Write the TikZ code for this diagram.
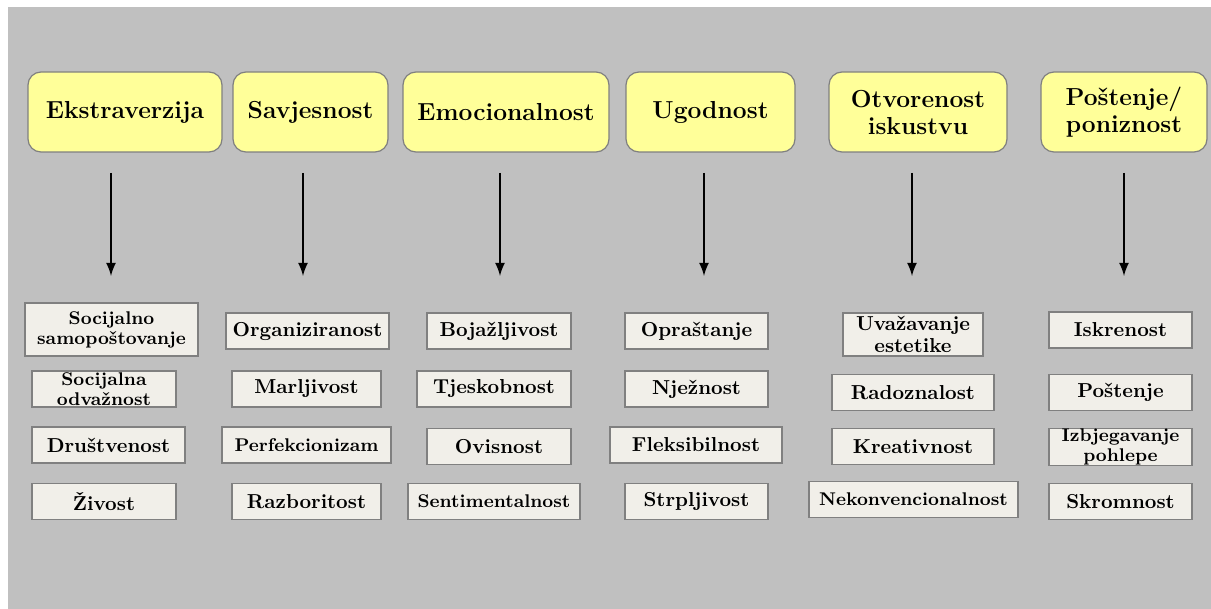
\documentclass[tikz,border=0pt]{standalone}
\usepackage{fontspec}
\definecolor{bggray}{RGB}{192,192,192}
\definecolor{traityellow}{RGB}{255,255,153}
\definecolor{facetgray}{RGB}{241,239,233}
\definecolor{edgegray}{RGB}{128,128,128}
\begin{document}
\begin{tikzpicture}[x=0.5pt, y=-0.5pt,
    trait/.style={draw=edgegray, line width=0.6pt, fill=traityellow, rounded corners=6.5pt, align=center, inner sep=0pt, minimum height=40pt, font=\fontsize{12.3}{13.5}\selectfont\bfseries},
    facet/.style={draw=edgegray, line width=0.6pt, fill=facetgray, align=center, inner sep=0pt, minimum height=18pt, font=\fontsize{10.1}{11}\selectfont\bfseries},
    smallfacet/.style={facet, font=\fontsize{9.2}{10}\selectfont\bfseries},
    facetarrow/.style={-latex, line width=1.25pt}]

    \fill[white] (0,0) rectangle (1211,609);
    \fill[bggray] (8,7) rectangle (1211,609);

    \node[trait, minimum width=97pt](E) at (125, 112) {Ekstraverzija};
    \node[trait, minimum width=77.5pt](S) at (310.5, 112) {Savjesnost};
    \node[trait, minimum width=103pt](EM) at (506, 112) {Emocionalnost};
    \node[trait, minimum width=84.5pt](U) at (710.5, 112) {Ugodnost};
    \node[trait, minimum width=89pt](O) at (918, 112) {Otvorenost\\iskustvu};
    \node[trait, minimum width=83pt](P) at (1124, 112) {Poštenje/\\poniznost};

    \foreach \x [count=\i] in {111, 303, 500, 704, 912, 1124} {
        \coordinate (A\i_top) at (\x, 173);
        \coordinate (A\i_bot) at (\x, 276);
        \draw[facetarrow] (A\i_top) -- (A\i_bot);
    }

    \node[smallfacet, minimum width=86.5pt, minimum height=26.5pt](E_f1) at (111.5, 329.5) {Socijalno\\samopoštovanje};
    \node[smallfacet, minimum width=72pt](E_f2) at (104, 389) {Socijalna\\odvažnost};
    \node[facet, minimum width=76.5pt](E_f3) at (108.5, 445) {Društvenost};
    \node[facet, minimum width=72pt](E_f4) at (104, 501.5) {Živost};

    \node[facet, minimum width=81.5pt](S_f1) at (307.5, 331) {Organiziranost};
    \node[facet, minimum width=74.5pt](S_f2) at (306.5, 389) {Marljivost};
    \node[smallfacet, minimum width=84.5pt](S_f3) at (306.5, 445) {Perfekcionizam};
    \node[facet, minimum width=74.5pt](S_f4) at (306.5, 501.5) {Razboritost};

    \node[facet, minimum width=72pt](EM_f1) at (499, 331) {Bojažljivost};
    \node[facet, minimum width=77pt](EM_f2) at (494, 389) {Tjeskobnost};
    \node[facet, minimum width=72pt](EM_f3) at (499, 446.5) {Ovisnost};
    \node[smallfacet, minimum width=86pt](EM_f4) at (494, 501.5) {Sentimentalnost};

    \node[facet, minimum width=71.5pt](U_f1) at (696.5, 331) {Opraštanje};
    \node[facet, minimum width=71.5pt](U_f2) at (696.5, 389) {Nježnost};
    \node[facet, minimum width=86pt](U_f3) at (696, 445) {Fleksibilnost};
    \node[facet, minimum width=71.5pt](U_f4) at (696.5, 501.5) {Strpljivost};

    \node[facet, minimum width=70pt, minimum height=21.5pt](O_f1) at (913, 334.5) {Uvažavanje\\estetike};
    \node[facet, minimum width=81pt](O_f2) at (913, 392.5) {Radoznalost};
    \node[facet, minimum width=81pt](O_f3) at (913, 446.5) {Kreativnost};
    \node[smallfacet, minimum width=104.5pt](O_f4) at (913.5, 499.5) {Nekonvencionalnost};

    \node[facet, minimum width=71.5pt](P_f1) at (1120.5, 330) {Iskrenost};
    \node[facet, minimum width=71.5pt](P_f2) at (1120.5, 392.5) {Poštenje};
    \node[smallfacet, minimum width=71.5pt](P_f3) at (1120.5, 447) {Izbjegavanje\\pohlepe};
    \node[facet, minimum width=71.5pt](P_f4) at (1120.5, 501.5) {Skromnost};

\end{tikzpicture}
\end{document}
